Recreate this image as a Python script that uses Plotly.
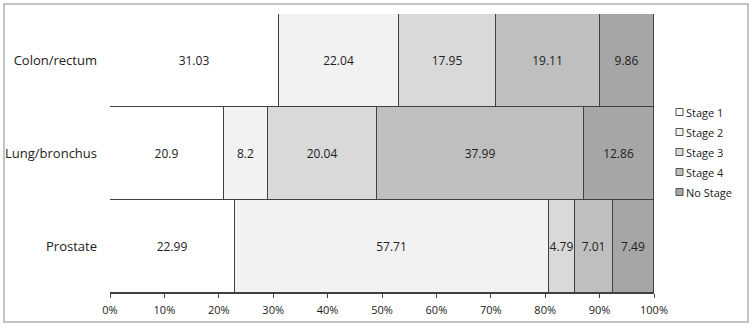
import plotly.graph_objects as go

categories = ["Colon/rectum", "Lung/bronchus", "Prostate"]
stages = ["Stage 1", "Stage 2", "Stage 3", "Stage 4", "No Stage"]
stage1 = [31.03, 20.9, 22.99]
stage2 = [22.04, 8.2, 57.71]
stage3 = [17.95, 20.04, 4.79]
stage4 = [19.11, 37.99, 7.01]
nostage = [9.86, 12.86, 7.49]
series = [stage1, stage2, stage3, stage4, nostage]
colors = ["#ffffff", "#f2f2f2", "#d9d9d9", "#bfbfbf", "#a6a6a6"]
tick_vals = [0, 10, 20, 30, 40, 50, 60, 70, 80, 90, 100]
tick_text = ["0%", "10%", "20%", "30%", "40%", "50%", "60%", "70%", "80%", "90%", "100%"]

fig = go.Figure()
for name, vals, col in zip(stages, series, colors):
    fig.add_trace(go.Bar(
        y=categories, x=vals, name=name, orientation="h", showlegend=False,
        marker=dict(color=col, line=dict(color="#404040", width=1)),
        text=[str(v) for v in vals], textposition="inside",
        insidetextanchor="middle", textangle=0,
        textfont=dict(color="#222222", size=12, family="Open Sans"),
        constraintext="none", hoverinfo="skip",
    ))

W, H = 752, 328
L, R, T, B = 110, 98, 14, 35
pw, ph = W - L - R, H - T - B

def px(x):
    return (x - L) / pw

def py(y):
    return (H - B - y) / ph

shapes = [dict(type="rect", xref="paper", yref="paper",
               x0=px(4), x1=px(748), y0=py(322), y1=py(4),
               line=dict(color="#b0b0b0", width=1.5), layer="below")]
annotations = []
for i, (name, col) in enumerate(zip(stages, colors)):
    yc = 112 + 20 * i
    shapes.append(dict(type="rect", xref="paper", yref="paper",
                       x0=px(676), x1=px(683), y0=py(yc + 3.5), y1=py(yc - 3.5),
                       fillcolor=col, line=dict(color="#505050", width=1)))
    annotations.append(dict(xref="paper", yref="paper", x=px(684), y=py(yc),
                            text=name, showarrow=False, xanchor="left",
                            yanchor="middle", font=dict(size=11, color="#222222")))

fig.update_layout(
    barmode="stack", bargap=0, width=W, height=H,
    margin=dict(l=L, r=R, t=T, b=B, autoexpand=False),
    plot_bgcolor="white", paper_bgcolor="white",
    font=dict(family="Open Sans", size=12, color="#222222"),
    showlegend=False,
    uniformtext=dict(mode="show", minsize=10),
    shapes=shapes, annotations=annotations,
)
fig.update_xaxes(range=[0, 100], tickvals=tick_vals, ticktext=tick_text,
                 showgrid=False, zeroline=False, showline=True, automargin=False,
                 linecolor="#404040", linewidth=1, ticks="outside",
                 ticklen=4, tickcolor="#404040", tickfont=dict(size=11),
                 ticklabelstandoff=3, fixedrange=True)
fig.update_yaxes(autorange="reversed", showgrid=False, showline=False, automargin=False,
                 ticks="", tickfont=dict(size=13), ticklabelstandoff=12, fixedrange=True)

fig.write_html("out.html", config={"displayModeBar": False},
               post_script="document.body.style.margin='0';document.body.style.overflow='hidden';")
